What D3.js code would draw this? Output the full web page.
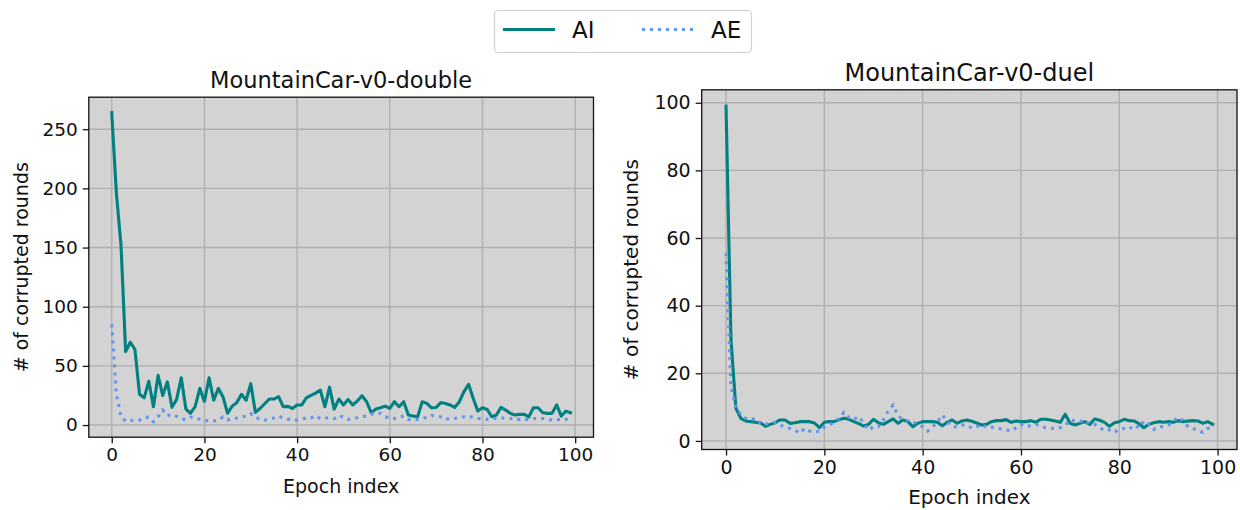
<!DOCTYPE html>
<html>
<head>
<meta charset="utf-8">
<script src="https://cdn.jsdelivr.net/npm/d3@7"></script>
<style>
  html, body { margin: 0; padding: 0; background: #ffffff; }
  svg { display: block; }
  text { font-family: "DejaVu Sans", sans-serif; fill: #111111; }
</style>
</head>
<body>
<svg id="chart" width="1240" height="510"></svg>
<script>
// ---------------- data ----------------
const seriesNames = ["AI", "AE"];
const xTicks = [0, 20, 40, 60, 80, 100];
const leftYTicks = [0, 50, 100, 150, 200, 250];
const rightYTicks = [0, 20, 40, 60, 80, 100];
const leftTitle = "MountainCar-v0-double";
const rightTitle = "MountainCar-v0-duel";
const xLabel = "Epoch index";
const yLabel = "# of corrupted rounds";

const doubleAI = [
  264, 196, 152, 62, 70, 64, 26, 23, 37, 15.5,
  42, 25, 36.5, 15, 21.7, 40, 13.5, 10, 15.5, 31,
  20, 40, 21, 31, 24, 10, 16, 19, 26, 21,
  35, 10.7, 14, 18, 22, 22, 24, 15.5, 15.8, 14,
  17, 17, 23, 25, 27, 29.6, 15.5, 32, 13.5, 22,
  17, 21.7, 17, 20.3, 24.8, 19.7, 10.4, 13.5, 14.6, 16,
  14, 19.7, 15.5, 19.7, 8.5, 7.6, 7, 19.7, 18.3, 14.6,
  14.9, 19, 18.3, 17, 14.9, 19.7, 28.2, 34.4, 22.5, 11.8,
  14.6, 13.2, 7, 8.5, 14.9, 12.7, 9.9, 8.5, 9, 9,
  7, 14.6, 14.6, 10.4, 9.9, 9.9, 17, 7.6, 11.8, 10.4
];
const doubleAE = [
  85, 26, 7, 3.4, 3.7, 4.2, 4.2, 6.5, 6.5, 2.8,
  7.1, 12.7, 7.9, 9, 7.3, 5.4, 4.6, 6.8, 6, 5,
  4.2, 3.1, 3.4, 4.2, 6.8, 4.2, 5.4, 6, 6.8, 7.5,
  9.6, 6, 5.4, 4.2, 5.4, 6, 7.5, 6, 5, 4.2,
  4.2, 5, 6, 6, 8, 5.4, 6, 6, 5.4, 8,
  7, 4.8, 5.6, 6.2, 7, 7.6, 9.2, 10.4, 9.9, 7,
  5.6, 5.6, 6.5, 7.6, 4.8, 4.8, 4.8, 5.6, 6.5, 8.2,
  7.6, 7, 4.8, 5.6, 5.6, 6.5, 7, 7.6, 6.5, 5.6,
  5.6, 4.8, 5.6, 5.6, 6.2, 5.6, 5.6, 4.8, 4.8, 4.8,
  4.8, 5.6, 5.6, 5.6, 4.8, 4.2, 4.8, 4.2, 4.8, 6.5
];
const duelAI = [
  99, 30, 9.7, 6.7, 5.9, 5.7, 5.5, 5.4, 4.3, 4.9,
  5.4, 6.2, 6.2, 5.2, 5.4, 5.7, 5.7, 5.7, 5.3, 3.9,
  5.5, 5.7, 5.7, 6.3, 6.7, 6.4, 5.7, 5.1, 4.4, 4.9,
  6.4, 5.4, 4.9, 5.7, 6.5, 5.2, 6.2, 5.7, 4.2, 5.2,
  5.7, 5.7, 5.7, 5.5, 4.5, 5.5, 6.2, 5.2, 5.9, 6.2,
  5.8, 5.3, 4.7, 4.9, 5.7, 6.0, 6.0, 6.3, 5.5, 5.9,
  5.7, 5.7, 6.0, 5.5, 6.4, 6.4, 6.2, 5.9, 5.5, 7.9,
  5.2, 4.7, 5.2, 5.7, 4.9, 6.5, 6.1, 5.5, 4.3, 5.4,
  5.7, 6.4, 6.0, 5.9, 5.1, 3.9, 4.9, 5.4, 5.7, 5.5,
  5.7, 5.5, 6.0, 5.7, 5.9, 6.0, 5.9, 5.2, 5.7, 4.9
];
const duelAE = [
  55.5, 16, 10.1, 7.7, 6.7, 6.3, 6.7, 5.2, 4.9, 5.2,
  5.5, 4.7, 4.2, 3.7, 3.2, 2.3, 3.7, 2.9, 2.6, 2.9,
  4.1, 4.7, 5.5, 6.7, 8.5, 6.9, 6.4, 7.2, 5.2, 3.2,
  4.2, 4.2, 6.2, 8.9, 10.6, 7.4, 6.2, 5.9, 5.7, 4.9,
  4.2, 2.9, 4.2, 5.5, 7.7, 5.7, 4.2, 4.2, 4.7, 4.7,
  3.8, 4.2, 4.9, 3.9, 4.1, 3.9, 3.5, 3.3, 2.9, 3.9,
  4.9, 4.3, 4.5, 4.9, 4.5, 3.9, 3.7, 3.7, 3.9, 4.5,
  6.2, 5.9, 5.7, 6.2, 4.9, 4.9, 4.0, 3.0, 3.3, 2.5,
  3.4, 3.7, 3.4, 4.7, 3.9, 5.9, 5.0, 3.4, 4.2, 4.2,
  4.7, 5.7, 7.0, 6.0, 4.2, 3.7, 3.2, 2.5, 3.7, 3.9
];

// ---------------- style ----------------
const colors = { AI: "#008080", AE: "#6495ED" };
const svg = d3.select("#chart");

function padDomain(values) {
  const [lo, hi] = d3.extent(values);
  const m = (hi - lo) * 0.05;
  return [lo - m, hi + m];
}

function drawPanel(opt) {
  const { left, top, right, bottom } = opt.box;
  const n = opt.ai.length;
  const x = d3.scaleLinear().domain(padDomain([0, n - 1])).range([left, right]);
  const y = d3.scaleLinear().domain(padDomain(opt.ai.concat(opt.ae))).range([bottom, top]);
  const g = svg.append("g");

  g.append("rect").attr("x", left).attr("y", top)
    .attr("width", right - left).attr("height", bottom - top)
    .attr("fill", "#d3d3d3");

  // grid
  g.append("g").selectAll("line").data(opt.xTicks).join("line")
    .attr("x1", d => x(d)).attr("x2", d => x(d)).attr("y1", top).attr("y2", bottom)
    .attr("stroke", "#b0b0b0").attr("stroke-width", 1.4);
  g.append("g").selectAll("line").data(opt.yTicks).join("line")
    .attr("y1", d => y(d)).attr("y2", d => y(d)).attr("x1", left).attr("x2", right)
    .attr("stroke", "#b0b0b0").attr("stroke-width", 1.4);

  const line = d3.line().x((d, i) => x(i)).y(d => y(d));
  g.append("path").datum(opt.ai).attr("d", line)
    .attr("fill", "none").attr("stroke", colors.AI).attr("stroke-width", 3.1)
    .attr("stroke-linejoin", "round").attr("stroke-linecap", "square");
  g.append("path").datum(opt.ae).attr("d", line)
    .attr("fill", "none").attr("stroke", colors.AE).attr("stroke-width", 3.1)
    .attr("stroke-dasharray", "3,5");

  // axes
  const xAxis = d3.axisBottom(x).tickValues(opt.xTicks).tickSize(6).tickPadding(5);
  const gx = g.append("g").attr("transform", `translate(0,${bottom})`).call(xAxis);
  const yAxis = d3.axisLeft(y).tickValues(opt.yTicks).tickSize(6).tickPadding(5);
  const gy = g.append("g").attr("transform", `translate(${left},0)`).call(yAxis);
  [gx, gy].forEach(a => {
    a.select(".domain").remove();
    a.selectAll(".tick line").attr("stroke", "#111").attr("stroke-width", 1.3);
    a.selectAll(".tick text").attr("font-size", opt.tickSize + "px")
      .attr("font-family", "DejaVu Sans").attr("fill", "#111");
  });

  // frame
  g.append("rect").attr("x", left).attr("y", top)
    .attr("width", right - left).attr("height", bottom - top)
    .attr("fill", "none").attr("stroke", "#111").attr("stroke-width", 1.3);

  g.append("text").attr("x", (left + right) / 2).attr("y", opt.titleY)
    .attr("text-anchor", "middle").attr("font-size", opt.titleSize + "px").text(opt.title);
  g.append("text").attr("x", (left + right) / 2).attr("y", opt.xLabelY)
    .attr("text-anchor", "middle").attr("font-size", opt.labelSize + "px").text(xLabel);
  g.append("text")
    .attr("transform", `translate(${opt.yLabelX},${(top + bottom) / 2}) rotate(-90)`)
    .attr("text-anchor", "middle").attr("font-size", opt.labelSize + "px").text(yLabel);
}

drawPanel({
  box: { left: 88.8, top: 97.2, right: 593.5, bottom: 437.2 },
  ai: doubleAI, ae: doubleAE, xTicks, yTicks: leftYTicks,
  title: leftTitle, titleY: 88, titleSize: 22.5, tickSize: 18.5, labelSize: 19,
  xLabelY: 493, yLabelX: 28
});
drawPanel({
  box: { left: 701.7, top: 89.8, right: 1237, bottom: 449.5 },
  ai: duelAI, ae: duelAE, xTicks, yTicks: rightYTicks,
  title: rightTitle, titleY: 81, titleSize: 24, tickSize: 19, labelSize: 20,
  xLabelY: 504, yLabelX: 638
});

// legend
const lg = svg.append("g");
lg.append("rect").attr("x", 494.5).attr("y", 10.5).attr("width", 257).attr("height", 42)
  .attr("rx", 4).attr("fill", "#ffffff").attr("stroke", "#d0d0d0").attr("stroke-width", 1.2);
const legendItems = [
  { name: seriesNames[0], x1: 503, x2: 555, tx: 572, dash: null },
  { name: seriesNames[1], x1: 642, x2: 696, tx: 711, dash: "3,5" }
];
legendItems.forEach(it => {
  lg.append("line").attr("x1", it.x1).attr("x2", it.x2).attr("y1", 29.5).attr("y2", 29.5)
    .attr("stroke", colors[it.name]).attr("stroke-width", 3.1)
    .attr("stroke-dasharray", it.dash);
  lg.append("text").attr("x", it.tx).attr("y", 38).attr("font-size", "23px").text(it.name);
});
</script>
</body>
</html>
